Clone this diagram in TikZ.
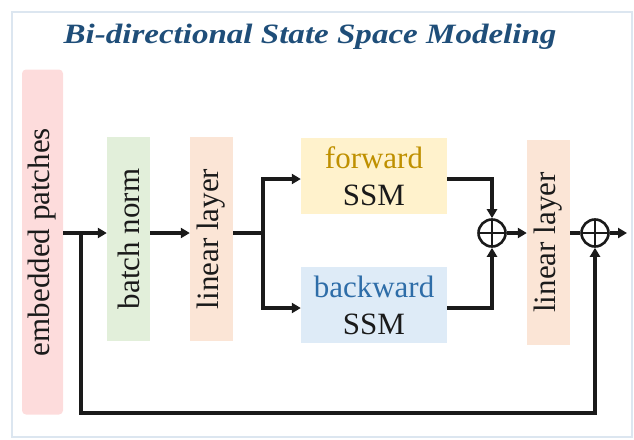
\documentclass[tikz,border=0pt]{standalone}
\usepackage{fontspec}
\usepackage{graphicx}
\setmainfont{Liberation Serif}
\usetikzlibrary{arrows.meta}
\definecolor{pinkc}{HTML}{FDDCDC}
\definecolor{greenc}{HTML}{E2EFDA}
\definecolor{peachc}{HTML}{FBE5D6}
\definecolor{yellowc}{HTML}{FFF2CC}
\definecolor{bluec}{HTML}{DEEBF7}
\definecolor{titlec}{HTML}{1F4E79}
\definecolor{fwdc}{HTML}{BF9000}
\definecolor{bwdc}{HTML}{2E6DA8}
\definecolor{framec}{HTML}{DCE6F0}
\definecolor{inkc}{HTML}{1A1A1A}
\tikzset{
  blk/.style={inner sep=0pt, font=\fontsize{31}{37}\selectfont, text=inkc},
  arr/.style={line width=3.1pt, draw=inkc, -{Triangle[length=9pt,width=10pt]}},
  ln/.style={line width=3.1pt, draw=inkc},
  plusc/.style={circle, draw=inkc, line width=2.6pt, minimum size=27pt, inner sep=0pt,
    path picture={\draw[line width=2.6pt, inkc] (path picture bounding box.north) -- (path picture bounding box.south)
      (path picture bounding box.west) -- (path picture bounding box.east);}}
}
\begin{document}
\begin{tikzpicture}[x=1pt,y=-1pt]
\useasboundingbox (0,0) rectangle (634,439);
\draw[framec, line width=2pt] (12,12) rectangle (632,437);
\node[font=\fontsize{28}{30}\selectfont\bfseries\itshape, text=titlec, xscale=1.18] (title) at (310,37) {Bi-directional State Space Modeling};
\node[blk, fill=pinkc, rounded corners=4pt, minimum height=345pt, minimum width=41pt] (emb) at (42.5,242) {\rotatebox{90}{embedded patches}};
\node[blk, fill=greenc, minimum height=204pt, minimum width=43pt] (bn) at (128.5,239) {\rotatebox{90}{batch norm}};
\node[blk, fill=peachc, minimum height=204pt, minimum width=43pt] (lin1) at (211.5,239) {\rotatebox{90}{linear layer}};
\node[blk, fill=yellowc, minimum width=146pt, minimum height=76pt, align=center] (fwd) at (374,176) {\textcolor{fwdc}{forward}\\SSM};
\node[blk, fill=bluec, minimum width=146pt, minimum height=76pt, align=center] (bwd) at (374,305) {\textcolor{bwdc}{backward}\\SSM};
\node[blk, fill=peachc, minimum height=205pt, minimum width=43pt] (lin2) at (548.5,242.5) {\rotatebox{90}{linear layer}};
\node[plusc] (p1) at (492,233) {};
\node[plusc] (p2) at (595,233) {};
\coordinate (b1) at (81,233);
\coordinate (b2) at (263,233);
\coordinate (bot) at (81,413);
\coordinate (out) at (627,233);
\draw[ln] (emb.east |- b1) -- (b1);
\draw[arr] (b1) -- (bn.west |- b1);
\draw[arr] (bn.east |- b1) -- (lin1.west |- b1);
\draw[ln] (lin1.east |- b2) -- (b2);
\draw[arr] (b2) |- ([yshift=-3pt]fwd.west);
\draw[arr] (b2) |- ([yshift=-3pt]bwd.west);
\draw[arr] ([yshift=-3pt]fwd.east) -| (p1.north);
\draw[arr] ([yshift=-3pt]bwd.east) -| (p1.south);
\draw[arr] (p1.east) -- (lin2.west |- p1);
\draw[ln] (lin2.east |- p2) -- (p2.west);
\draw[arr] (p2.east) -- (out);
\draw[arr] (b1) -- (bot) -| (p2.south);
\end{tikzpicture}
\end{document}
